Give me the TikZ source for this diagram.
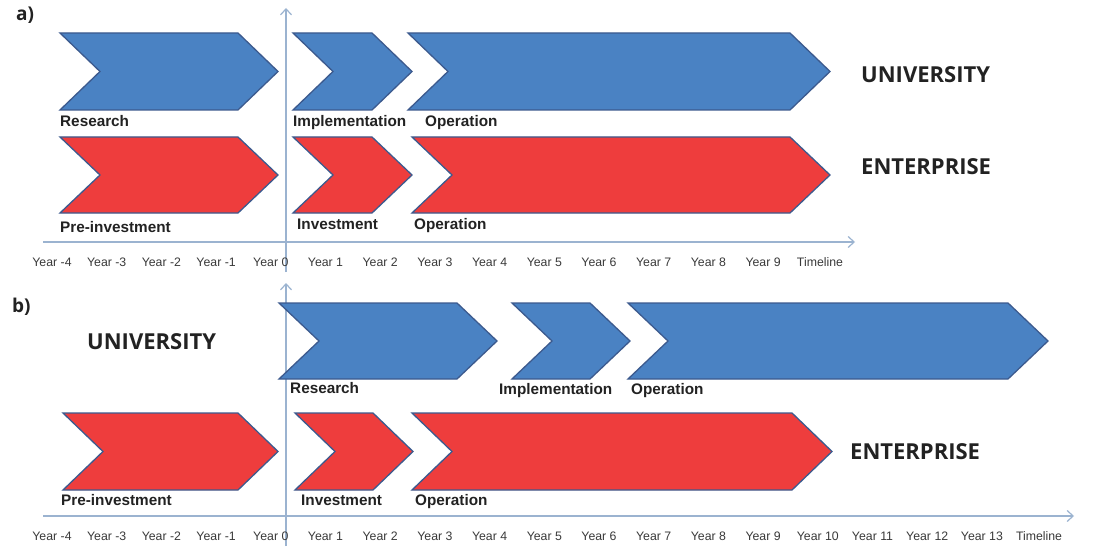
\documentclass[tikz,border=0pt]{standalone}
\usepackage{fontspec}
\setmainfont{Liberation Sans}
\newfontfamily\headfont{Open Sans}
\usetikzlibrary{arrows.meta}
\definecolor{chblue}{HTML}{4A82C3}
\definecolor{chred}{HTML}{EE3D3D}
\definecolor{chedge}{HTML}{3C5A8E}
\definecolor{axiscol}{HTML}{9BB3D0}
\definecolor{yeartext}{HTML}{3A3A3A}
\definecolor{labtext}{HTML}{222222}
\newcommand\chevron[5]{%
  \filldraw[chev,fill=#5] (#1,#3) -- ({#2-40},#3) -- (#2,{(#3+#4)/2}) -- ({#2-40},#4) -- (#1,#4) -- ({#1+40},{(#3+#4)/2}) -- cycle;}
\tikzset{
  chev/.style={draw=chedge,line width=1.3pt,line join=miter},
  axisline/.style={draw=axiscol,line width=1.2pt,-{Straight Barb[length=6pt,width=11pt]}},
  lab/.style={anchor=base west,yshift=-5.5pt,inner sep=0pt,text=labtext,font=\fontsize{15.3}{18}\selectfont\bfseries},
  year/.style={inner sep=0pt,text=yeartext,font=\fontsize{12.3}{14}\selectfont},
  head/.style={anchor=west,inner sep=0pt,text=labtext,font=\headfont\fontsize{22}{25}\selectfont\bfseries},
  panel/.style={anchor=west,inner sep=0pt,text=labtext,font=\headfont\fontsize{19}{22}\selectfont\bfseries}
}
\begin{document}
\begin{tikzpicture}[x=1pt,y=-1pt]
\useasboundingbox[fill=white] (0,0) rectangle (1095,559);
% ---------------- panel a ----------------
\node[panel] (pa) at (16,15) {a)};
\coordinate (axa-s) at (43,242);
\coordinate (axa-e) at (855,242);
\coordinate (vaa-s) at (286,272);
\coordinate (vaa-e) at (286,8);
\draw[axisline] (axa-s) -- (axa-e);
\draw[axisline] (vaa-s) -- (vaa-e);
\chevron{60}{278}{33}{110}{chblue}
\chevron{293}{412}{33}{110}{chblue}
\chevron{408}{830}{33}{110}{chblue}
\chevron{60}{278}{137}{213}{chred}
\chevron{293}{412}{137}{213}{chred}
\chevron{412}{830}{137}{213}{chred}
\node[lab] (a-res) at (60,121) {Research};
\node[lab] (a-imp) at (293,121) {Implementation};
\node[lab] (a-opu) at (425,121) {Operation};
\node[lab] (a-pre) at (60,227) {Pre-investment};
\node[lab] (a-inv) at (297,224) {Investment};
\node[lab] (a-ope) at (414,224) {Operation};
\node[head] (a-uni) at (861,75) {UNIVERSITY};
\node[head] (a-ent) at (861,167) {ENTERPRISE};
\foreach \i [count=\k from 0] in {-4,...,9}
  \node[year] (ya\k) at ({52+54.7*\k},262) {Year \i};
\node[year] (ya-t) at (820,262) {Timeline};
% ---------------- panel b ----------------
\node[panel] (pb) at (12,307) {b)};
\coordinate (axb-s) at (43,516);
\coordinate (axb-e) at (1074,516);
\coordinate (vab-s) at (286,546);
\coordinate (vab-e) at (286,283);
\draw[axisline] (axb-s) -- (axb-e);
\draw[axisline] (vab-s) -- (vab-e);
\chevron{279}{497}{303}{379}{chblue}
\chevron{512}{630}{303}{379}{chblue}
\chevron{628}{1048}{303}{379}{chblue}
\chevron{63}{278}{413}{490}{chred}
\chevron{295}{413}{413}{490}{chred}
\chevron{412}{832}{413}{490}{chred}
\node[lab] (b-res) at (290,388) {Research};
\node[lab] (b-imp) at (499,389) {Implementation};
\node[lab] (b-opu) at (631,389) {Operation};
\node[lab] (b-pre) at (61,500) {Pre-investment};
\node[lab] (b-inv) at (301,500) {Investment};
\node[lab] (b-ope) at (415,500) {Operation};
\node[head] (b-uni) at (87,342) {UNIVERSITY};
\node[head] (b-ent) at (850,452) {ENTERPRISE};
\foreach \i [count=\k from 0] in {-4,...,13}
  \node[year] (yb\k) at ({52+54.7*\k},536) {Year \i};
\node[year] (yb-t) at (1039,536) {Timeline};
\end{tikzpicture}
\end{document}
